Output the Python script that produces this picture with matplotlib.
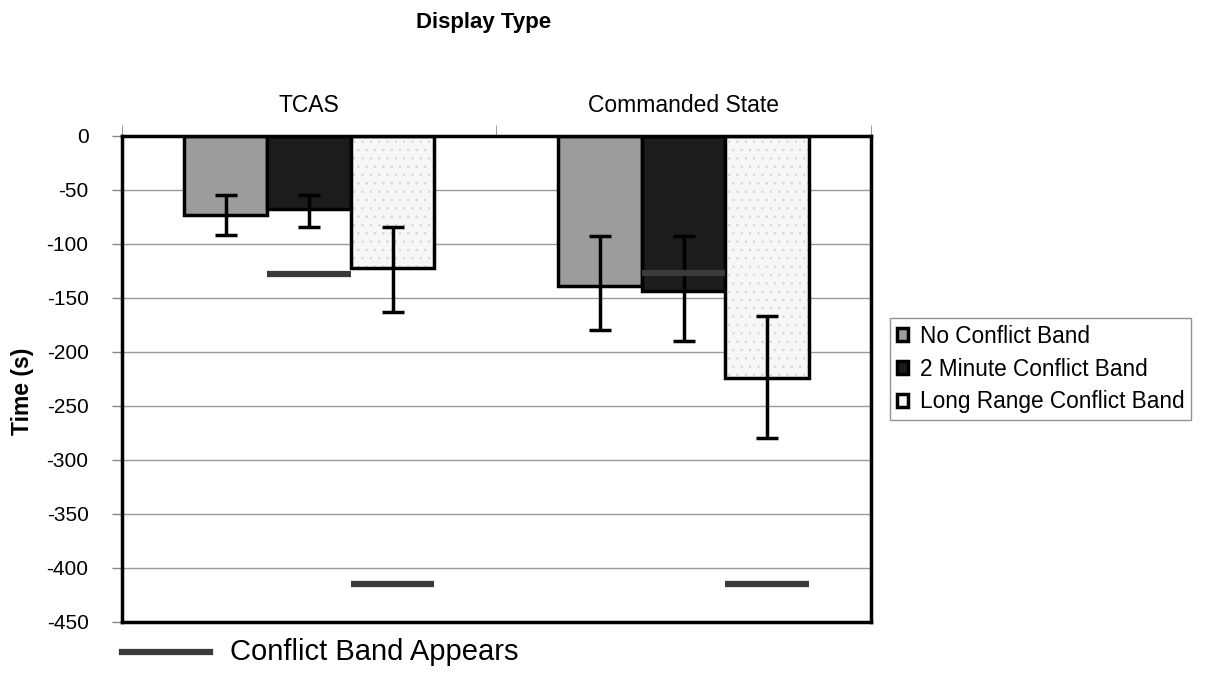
import numpy as np
import matplotlib.pyplot as plt
from matplotlib.lines import Line2D

plt.rcParams['font.family'] = ['Liberation Sans', 'DejaVu Sans']
plt.rcParams['axes.unicode_minus'] = False
plt.rcParams['hatch.linewidth'] = 0.5

# donnees
groups = ['TCAS', 'Commanded State']
series = ['No Conflict Band', '2 Minute Conflict Band', 'Long Range Conflict Band']
means = {
    'No Conflict Band': [-73, -139],
    '2 Minute Conflict Band': [-68, -144],
    'Long Range Conflict Band': [-122, -224],
}
err_hi = {
    'No Conflict Band': [-55, -93],
    '2 Minute Conflict Band': [-55, -93],
    'Long Range Conflict Band': [-84, -167],
}
err_lo = {
    'No Conflict Band': [-92, -180],
    '2 Minute Conflict Band': [-84, -190],
    'Long Range Conflict Band': [-163, -280],
}
# moment ou la bande de conflit apparait (serie, groupe, valeur)
band_series = ['2 Minute Conflict Band', 'Long Range Conflict Band']
band_tcas = [-128, -415]
band_cs = [-127, -415]

colors = ['#9c9c9c', '#1c1c1c', '#f7f7f7']
hatches = ['', '', '..']

fig = plt.figure(figsize=(12.11, 6.93), dpi=100)
ax = fig.add_axes([0.1007, 0.1025, 0.6185, 0.7013])

x = np.arange(len(groups))
w = 0.223
offsets = [-w, 0, w]

for i, s in enumerate(series):
    m = np.array(means[s])
    lo = m - np.array(err_lo[s])
    hi = np.array(err_hi[s]) - m
    # texture pale puis contour noir
    if hatches[i]:
        ax.bar(x + offsets[i], m, width=w, color=colors[i], edgecolor='#d4d4d4',
               linewidth=0, hatch=hatches[i], zorder=2)
        ax.bar(x + offsets[i], m, width=w, fill=False, edgecolor='black',
               linewidth=2.5, zorder=3)
        ax.bar([0], [0], width=0, color=colors[i], edgecolor='black', linewidth=2.5, label=s)
    else:
        ax.bar(x + offsets[i], m, width=w, color=colors[i], edgecolor='black',
               linewidth=2.5, label=s, zorder=2)
    ax.errorbar(x + offsets[i], m, yerr=[lo, hi], fmt='none', ecolor='black',
                elinewidth=2.5, capsize=8, capthick=2.5, zorder=4)

# lignes "Conflict Band Appears"
for j, vals in enumerate([band_tcas, band_cs]):
    for s, v in zip(band_series, vals):
        k = series.index(s)
        xc = x[j] + offsets[k]
        ax.hlines(v, xc - w / 2, xc + w / 2, color='#3a3a3a', linewidth=4.5, zorder=5)

ax.set_xlim(-0.5, 1.5)
ax.set_ylim(-450, 0)
ax.set_yticks(np.arange(-450, 1, 50))
ax.yaxis.grid(True, color='#9a9a9a', linewidth=1)
ax.set_axisbelow(True)
ax.tick_params(axis='y', labelsize=15, length=7, width=1, color='#888888', pad=17)
for sp in ax.spines.values():
    sp.set_linewidth(2.5)

ax.xaxis.tick_top()
ax.set_xticks(x)
ax.set_xticklabels(groups, fontsize=16.5)
ax.tick_params(axis='x', length=0, pad=14)
ax.set_xticks([-0.5, 0.5, 1.5], minor=True)
ax.tick_params(axis='x', which='minor', length=8, color='#888888')

ax.set_ylabel('Time (s)', fontsize=16.5, fontweight='bold')
ax.yaxis.set_label_coords(-0.117, 0.475)
fig.text(0.399, 0.968, 'Display Type', fontsize=16, fontweight='bold', ha='center', va='center')

leg = ax.legend(loc='upper left', bbox_to_anchor=(0.735, 0.541), bbox_transform=fig.transFigure,
                fontsize=16.3, frameon=True, fancybox=False, handlelength=0.5, handleheight=0.5,
                handletextpad=0.5, labelspacing=0.43, borderpad=0.3, borderaxespad=0)
leg.get_frame().set_edgecolor('#777777')
leg.get_frame().set_linewidth(1)

fig.add_artist(Line2D([0.101, 0.173], [0.059, 0.059], color='#3a3a3a', linewidth=4.5))
fig.text(0.19, 0.059, 'Conflict Band Appears', fontsize=21, va='center', ha='left')

fig.savefig('out.png', dpi=100)
